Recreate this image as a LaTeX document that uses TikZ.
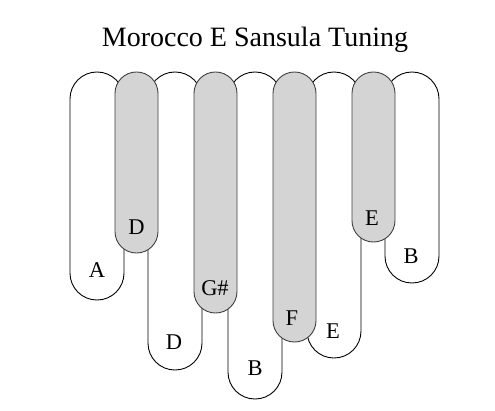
\documentclass[tikz,border=0pt]{standalone}
\usepackage{fontspec}
\setmainfont{Liberation Serif}
\begin{document}
\begin{tikzpicture}[x=1pt,y=-1pt,
  whitekey/.style={draw=black,fill=white,line width=0.9pt,rectangle,rounded corners=26.9pt,minimum width=54pt,anchor=north west,inner sep=0pt,outer sep=0pt},
  graykey/.style={draw=black!75,fill=black!17,line width=0.9pt,rectangle,rounded corners=21.4pt,minimum width=43pt,anchor=north west,inner sep=0pt,outer sep=0pt},
  lab/.style={font=\fontsize{22.5}{23}\selectfont,inner sep=0pt},
  ttl/.style={font=\fontsize{28}{28}\selectfont,inner sep=0pt}]
\useasboundingbox (0,0) rectangle (495,410);
\node[ttl] (title) at (255,40) {Morocco E Sansula Tuning};
% white keys
\node[whitekey,minimum height=228pt] (w1) at (70,72) {};
\node[whitekey,minimum height=298pt] (w2) at (148,72) {};
\node[whitekey,minimum height=327pt] (w3) at (228,72) {};
\node[whitekey,minimum height=286pt] (w4) at (307,72) {};
\node[whitekey,minimum height=211pt] (w5) at (385,72) {};
% gray keys
\node[graykey,minimum height=181pt] (g1) at (115,72) {};
\node[graykey,minimum height=241pt] (g2) at (194,72) {};
\node[graykey,minimum height=270pt] (g3) at (273,72) {};
\node[graykey,minimum height=170pt] (g4) at (352,72) {};
% labels
\node[lab] (lA) at (97,270) {A};
\node[lab] (lD1) at (136.5,227) {D};
\node[lab] (lD2) at (174,342) {D};
\node[lab] (lG) at (215,288) {G\#};
\node[lab] (lB1) at (255,368) {B};
\node[lab] (lF) at (292,318) {F};
\node[lab] (lE1) at (333,331) {E};
\node[lab] (lE2) at (372,218) {E};
\node[lab] (lB2) at (411,256) {B};
\end{tikzpicture}
\end{document}
